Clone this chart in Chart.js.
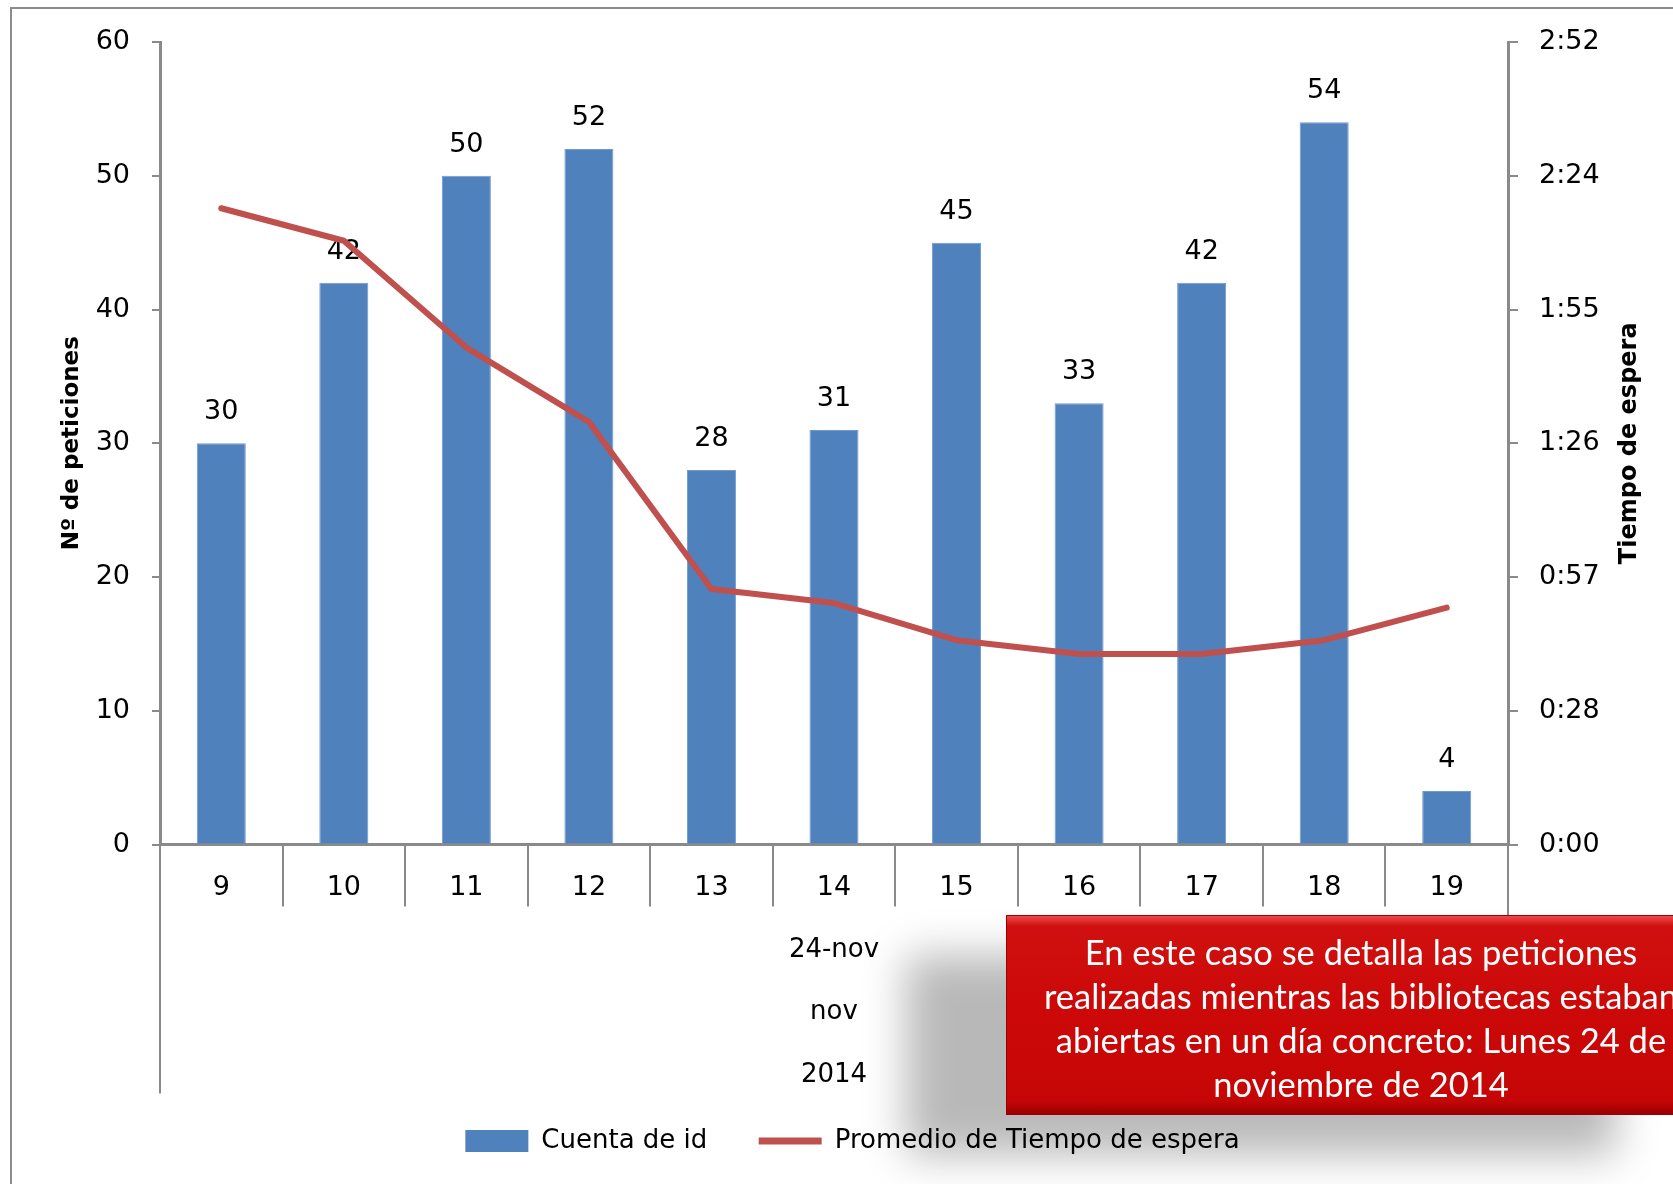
<!DOCTYPE html>
<html>
<head>
<meta charset="utf-8">
<script src="https://cdn.jsdelivr.net/npm/chart.js@4.4.1/dist/chart.umd.min.js"></script>
<style>
  html, body { margin:0; padding:0; background:#fff; overflow:hidden; width:1673px; height:1184px; }
  #frame { position:absolute; left:10px; top:7px; width:1720px; height:1220px; border:2px solid #8c8c8c; box-sizing:border-box; }
  #wrap { position:absolute; left:0; top:0; width:1673px; height:1184px; }
  #note {
    position:absolute; left:1006px; top:915px; width:710px; height:200px; box-sizing:border-box;
    border:1px solid #9a0000;
    background:linear-gradient(to bottom, #ee4a4a 0%, #d01010 5%, #cc0808 50%, #c60606 93%, #9c0000 100%);
    color:#fff; font-family:Lato, "Open Sans", sans-serif; font-size:34.5px; line-height:44px;
    text-align:center; padding-top:14px; white-space:nowrap;
    box-shadow:-100px 40px 40px rgba(0,0,0,0.28);
  }
</style>
</head>
<body>
<div id="frame"></div>
<div id="wrap"><canvas id="c" width="1673" height="1184"></canvas></div>
<div id="note">En este caso se detalla las peticiones<br>realizadas mientras las bibliotecas estaban<br>abiertas en un día concreto: Lunes 24 de<br>noviembre de 2014</div>
<script>
// ---- data ----
const categories = ['9', '10', '11', '12', '13', '14', '15', '16', '17', '18', '19'];
const peticiones = [30, 42, 50, 52, 28, 31, 45, 33, 42, 54, 4];
// Promedio de Tiempo de espera, in seconds (m:ss on the right axis)
const tiempoEsperaSeg = [137, 130, 107, 91, 55, 52, 44, 41, 41, 44, 51];
const groupLabels = ['24-nov', 'nov', '2014'];
const leftTicks = [0, 10, 20, 30, 40, 50, 60];
const rightTickSeconds = [0, 28.8, 57.6, 86.4, 115.2, 144, 172.8];
const seriesNames = ['Cuenta de id', 'Promedio de Tiempo de espera'];
const axisTitles = ['Nº de peticiones', 'Tiempo de espera'];

const FONT = '"DejaVu Sans", sans-serif';
const GREY = '#8a8a8a';

function fmtMS(v) {
  const s = Math.round(v * 10) / 10;
  const m = Math.floor(s / 60);
  const r = Math.floor(s - m * 60 + 1e-6);
  return m + ':' + String(r).padStart(2, '0');
}

const decor = {
  id: 'decor',
  afterDatasetDraw(chart, args) {
    if (args.meta.type !== 'bar') return;
    const ctx = chart.ctx;
    ctx.save();
    ctx.font = '27px ' + FONT;
    ctx.fillStyle = '#000';
    ctx.textAlign = 'center';
    ctx.textBaseline = 'middle';
    args.meta.data.forEach((el, i) => {
      ctx.fillText(String(peticiones[i]), el.x, el.y - 31);
    });
    ctx.restore();
  },
  afterDraw(chart) {
    const x = chart.scales.x, ctx = chart.ctx, ca = chart.chartArea;
    ctx.save();
    ctx.strokeStyle = GREY;
    ctx.lineWidth = 2;
    [x.left, x.right].forEach(px => {
      ctx.beginPath();
      ctx.moveTo(px, x.top);
      ctx.lineTo(px, x.top + 249);
      ctx.stroke();
    });
    // right axis title, reading bottom-to-top
    ctx.translate(1630, (ca.top + ca.bottom) / 2);
    ctx.rotate(-Math.PI / 2);
    ctx.font = 'bold 24px ' + FONT;
    ctx.fillStyle = '#000';
    ctx.textAlign = 'center';
    ctx.textBaseline = 'middle';
    ctx.fillText(axisTitles[1], 0, 0);
    ctx.restore();
  }
};

new Chart(document.getElementById('c'), {
  data: {
    labels: categories,
    datasets: [
      {
        type: 'bar',
        label: seriesNames[0],
        data: peticiones,
        yAxisID: 'y',
        backgroundColor: '#4f81bd',
        borderColor: '#7099cf',
        borderWidth: 1,
        barPercentage: 0.4,
        categoryPercentage: 1.0,
        order: 1,
        pointStyle: 'rect'
      },
      {
        type: 'line',
        label: seriesNames[1],
        data: tiempoEsperaSeg,
        yAxisID: 'y1',
        borderColor: '#c0504d',
        backgroundColor: '#c0504d',
        borderWidth: 6,
        pointRadius: 0,
        tension: 0,
        borderCapStyle: 'round',
        borderJoinStyle: 'round',
        order: 0,
        pointStyle: 'line'
      }
    ]
  },
  options: {
    responsive: false,
    animation: false,
    devicePixelRatio: 1,
    layout: { padding: { top: 42, bottom: 20, left: 32, right: 0 } },
    plugins: {
      tooltip: { enabled: false },
      legend: {
        position: 'bottom',
        labels: {
          font: { family: FONT, size: 26 },
          color: '#000',
          usePointStyle: true,
          pointStyleWidth: 63,
          boxHeight: 22,
          padding: 10,
          sort: (a, b) => a.datasetIndex - b.datasetIndex,
          generateLabels(chart) {
            const items = Chart.defaults.plugins.legend.labels.generateLabels(chart);
            items.forEach(it => {
              const ds = chart.data.datasets[it.datasetIndex];
              if (ds.type === 'bar') {
                it.pointStyle = 'rect';
                it.fillStyle = '#4f81bd';
                it.strokeStyle = '#4f81bd';
                it.lineWidth = 0;
                it.text = it.text + '     ';
              } else {
                it.pointStyle = 'line';
                it.strokeStyle = '#c0504d';
                it.lineWidth = 7;
              }
            });
            return items;
          }
        }
      }
    },
    scales: {
      x: {
        type: 'category',
        offset: true,
        grid: {
          offset: true,
          drawOnChartArea: false,
          drawTicks: true,
          tickLength: 62,
          color: GREY,
          lineWidth: 2
        },
        border: { display: true, color: GREY, width: 3 },
        ticks: {
          font: { family: FONT, size: 27 },
          color: '#000',
          padding: -35,
          maxRotation: 0,
          autoSkip: false
        },
        title: {
          display: true,
          text: groupLabels,
          font: { family: FONT, size: 26, lineHeight: 62.5 / 26 },
          color: '#000',
          padding: { top: 0, bottom: 12 }
        },
        afterFit(scale) { scale.height = 273.5; }
      },
      y: {
        type: 'linear',
        position: 'left',
        min: 0,
        max: 60,
        afterBuildTicks(scale) { scale.ticks = leftTicks.map(v => ({ value: v })); },
        grid: { drawOnChartArea: false, drawTicks: true, tickLength: 8, color: GREY, lineWidth: 2 },
        border: { display: true, color: GREY, width: 3 },
        ticks: { font: { family: FONT, size: 27 }, color: '#000', padding: 22 },
        title: {
          display: true,
          text: axisTitles[0],
          font: { family: FONT, size: 23, weight: 'bold' },
          color: '#000',
          padding: { top: 26, bottom: 0 }
        },
        afterFit(scale) { scale.width = 128; }
      },
      y1: {
        type: 'linear',
        position: 'right',
        min: 0,
        max: 172.8,
        afterBuildTicks(scale) { scale.ticks = rightTickSeconds.map(v => ({ value: v })); },
        grid: { drawOnChartArea: false, drawTicks: true, tickLength: 10, color: GREY, lineWidth: 2 },
        border: { display: true, color: GREY, width: 3 },
        ticks: { font: { family: FONT, size: 27 }, color: '#000', padding: 21, callback: (v) => fmtMS(v) },
        title: { display: false },
        afterFit(scale) { scale.width = 165; }
      }
    }
  },
  plugins: [decor]
});
</script>
</body>
</html>
